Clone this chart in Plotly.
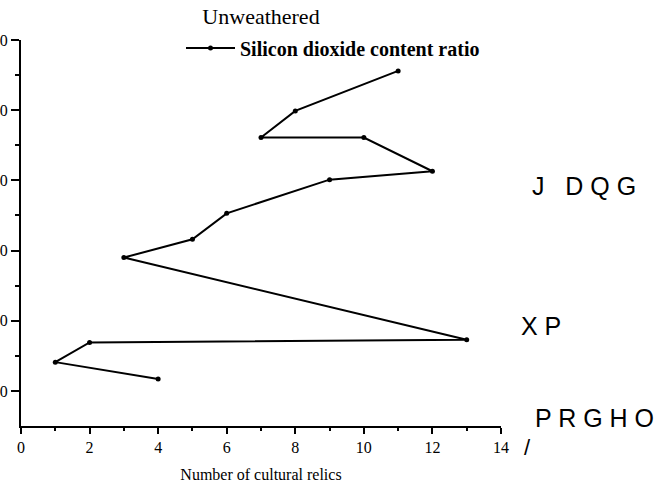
import plotly.graph_objects as go

# Data (x = number of cultural relics, y = SiO2 content ratio)
relic_counts = [11, 8, 7, 10, 12, 9, 6, 5, 3, 13, 2, 1, 4]
sio2_ratio = [85.6, 79.9, 76.1, 76.1, 71.3, 70.1, 65.3, 61.6, 59.0, 47.3, 46.9, 44.1, 41.7]
x_ticks = [0, 2, 4, 6, 8, 10, 12, 14]
y_ticks = [40, 50, 60, 70, 80, 90]

serif = "Liberation Serif"
sans = "Liberation Sans"

# plot area sits at x 21..501, y 40..426 on the page (body margin removed below)
PL, PT, PW, PH = 21, 40, 480, 386
W, H = 669, 495

fig = go.Figure()
fig.add_trace(go.Scatter(
    x=relic_counts, y=sio2_ratio, mode="lines+markers",
    name="<b>Silicon dioxide content ratio</b>",
    line=dict(color="black", width=2),
    marker=dict(color="black", size=5),
))

def px_to_paper_x(px):
    return (px - PL) / PW

def py_to_paper_y(py):
    return (PT + PH - py) / PH

fig.update_layout(
    width=W, height=H,
    margin=dict(l=PL, r=W - PL - PW, t=PT, b=H - PT - PH),
    paper_bgcolor="white", plot_bgcolor="white",
    showlegend=True,
    title=dict(text="Unweathered", x=0.5, xref="paper", xanchor="center",
               y=1 - 16 / H, yanchor="middle",
               font=dict(family=serif, size=22, color="black")),
    legend=dict(x=px_to_paper_x(181), xanchor="left", y=py_to_paper_y(48), yanchor="middle",
                bgcolor="rgba(0,0,0,0)", itemwidth=49,
                font=dict(family=serif, size=20, color="black")),
    xaxis=dict(range=[0, 14], tickvals=x_ticks, ticktext=[str(v) for v in x_ticks],
               showgrid=False, zeroline=False, showline=True, linecolor="black", linewidth=2,
               ticks="outside", ticklen=6, tickwidth=2, tickcolor="black",
               minor=dict(tickvals=[1, 3, 5, 7, 9, 11, 13], ticks="outside", ticklen=3,
                          tickwidth=2, tickcolor="black"),
               tickfont=dict(family=serif, size=16, color="black"),
               automargin=False,
               title=dict(text="Number of cultural relics", standoff=14,
                          font=dict(family=serif, size=16, color="black"))),
    yaxis=dict(range=[35, 90], tickvals=y_ticks, ticktext=[str(v) for v in y_ticks],
               showgrid=False, zeroline=False, showline=True, linecolor="black", linewidth=2,
               ticks="outside", ticklen=8, tickwidth=2, tickcolor="black",
               minor=dict(tickvals=[45, 55, 65, 75, 85], ticks="outside", ticklen=4,
                          tickwidth=2, tickcolor="black"),
               tickfont=dict(family=serif, size=16, color="black"),
               automargin=False),
)

side_texts = [
    ("J   D Q G", 530, 186, 25),
    ("X P", 519, 326, 25),
    ("P R G H O", 533, 418, 25),
    ("/", 522, 447, 22),
]
for txt, px, py, fs in side_texts:
    fig.add_annotation(text=txt, xref="paper", yref="paper",
                       x=px_to_paper_x(px), y=py_to_paper_y(py),
                       xanchor="left", yanchor="middle", showarrow=False,
                       font=dict(family=sans, size=fs, color="black"))

fig.write_html("out.html",
               config={"displayModeBar": False},
               post_script="document.body.style.margin='0';document.body.style.overflow='hidden';")
